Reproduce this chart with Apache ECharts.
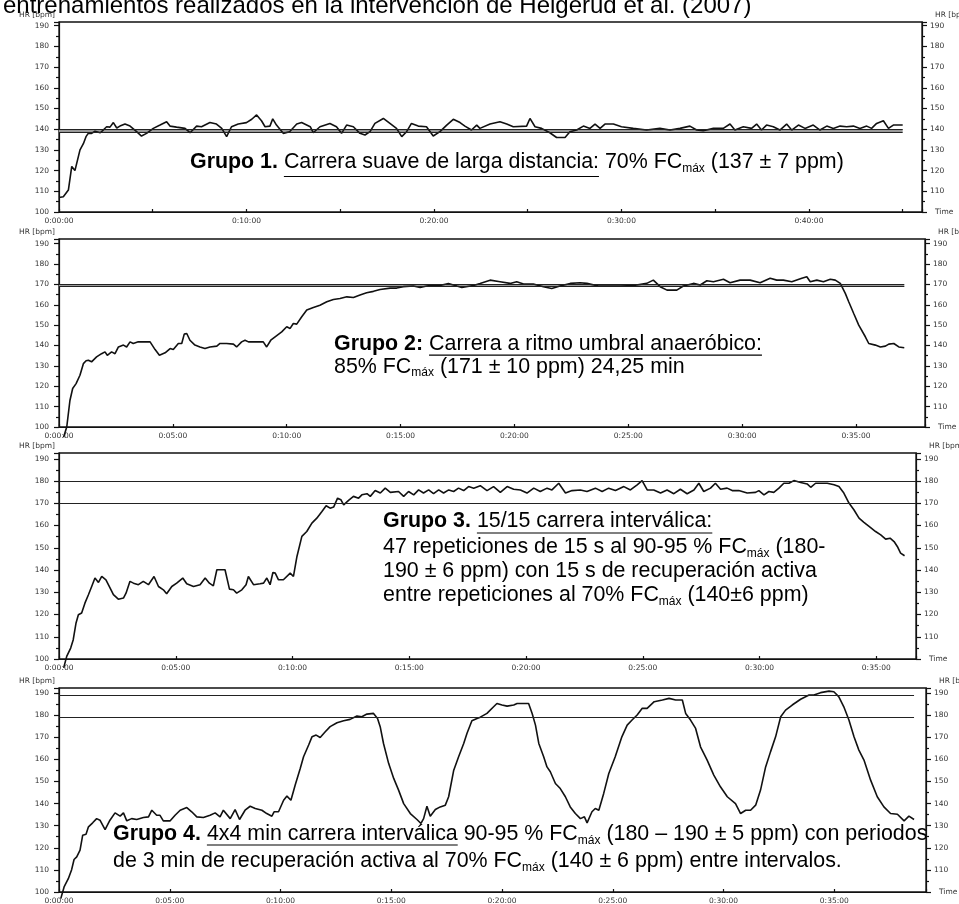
<!DOCTYPE html>
<html>
<head>
<meta charset="utf-8">
<script src="https://cdn.jsdelivr.net/npm/echarts@6/dist/echarts.min.js"></script>
<style>
html, body { margin: 0; padding: 0; background: #fff; }
#main { width: 959px; height: 904px; }
</style>
</head>
<body>
<div id="main"></div>
<script>
const group1 = [[0,107],[0.23,107.4],[0.3,108],[0.5,110.6],[0.68,122],[0.85,120],[0.94,120.3],[1.12,130],[1.3,133],[1.44,136.4],[1.56,138],[1.74,138],[1.92,139],[2.2,138.3],[2.36,139.6],[2.54,141.2],[2.72,141],[2.9,143.2],[3.08,140.6],[3.25,141.5],[3.52,142.5],[3.79,141.5],[4.14,138.8],[4.4,136.7],[4.67,138],[5.03,140.4],[5.39,142],[5.74,143.6],[5.92,141.5],[6.27,141],[6.72,140.4],[6.99,138.3],[7.34,141.5],[7.6,141.2],[8.05,143.2],[8.4,142.5],[8.68,140.4],[8.94,136.4],[9.2,141.2],[9.56,142.5],[10,143.2],[10.28,144.8],[10.54,146.9],[10.8,144.1],[10.99,141.2],[11.25,141.5],[11.4,145],[11.6,142],[11.96,138],[12.3,138.8],[12.68,142.5],[12.94,143.2],[13.4,141.2],[13.56,138.3],[13.92,141.2],[14.45,142.8],[14.8,141.2],[15.07,138],[15.34,142],[15.7,141.2],[16.05,138],[16.32,137.2],[16.59,138.8],[16.85,142.8],[17.3,145.2],[17.65,142.8],[18,140.4],[18.28,136.4],[18.54,138.8],[18.8,142.8],[19.16,141.5],[19.6,141.2],[19.96,136.7],[20.32,138.8],[20.68,142],[21.03,144.8],[21.39,143.2],[21.65,141.5],[22,139.6],[22.28,142],[22.45,140.4],[22.99,142.5],[23.52,143.6],[23.88,142.5],[24.23,141.2],[24.94,141.5],[25.12,145.2],[25.39,141.2],[25.74,140.4],[26.18,138.3],[26.54,136],[26.99,136],[27.25,138.8],[27.61,139.6],[27.97,141.5],[28.32,140.4],[28.59,142.5],[28.86,140.4],[29.12,142.5],[29.57,142.5],[30,141.2],[30.63,140.4],[31.34,139.6],[32.05,140.4],[32.59,139.6],[33.12,140.4],[33.65,141.5],[34.01,139.6],[34.36,139.3],[34.9,140.4],[35.43,140.4],[35.79,142.5],[36.05,139.6],[36.5,141.2],[36.94,140.4],[37.21,142.5],[37.47,139.6],[37.74,142],[38.1,141.2],[38.45,139.6],[38.81,142.5],[39.08,139.6],[39.44,142],[39.79,140.4],[40.23,142],[40.59,139.6],[40.95,141.5],[41.3,140.4],[41.66,141.5],[42.01,141.2],[42.37,141.5],[42.72,140.4],[43.08,141.5],[43.34,140.4],[43.61,142.8],[43.97,144.1],[44.24,140.4],[44.5,142],[45,142]];

const group2 = [[0.2,95],[0.34,100],[0.48,113],[0.6,118.9],[0.75,121.3],[0.92,125.4],[1.07,131.1],[1.19,132.5],[1.29,132.8],[1.43,132],[1.65,134.4],[1.87,136],[2.02,136.9],[2.12,135.2],[2.31,136.9],[2.46,136],[2.61,139.3],[2.83,140.2],[2.97,139.3],[3.12,141.8],[3.26,141],[3.48,141.8],[3.7,141.8],[4,141.8],[4.22,138],[4.41,135.2],[4.66,136.4],[4.88,138.5],[5.02,138],[5.24,141],[5.39,141],[5.5,145.6],[5.61,145.9],[5.75,142.6],[5.97,140.2],[6.19,139.3],[6.41,138.5],[6.63,139.3],[6.93,139.7],[7.07,141],[7.36,141],[7.66,140.7],[7.8,139.3],[8.02,141.8],[8.17,142.6],[8.32,141.8],[8.68,141.8],[8.97,141.8],[9.12,139.3],[9.3,142.6],[9.49,144.3],[9.78,146.7],[10,149.2],[10.15,148.4],[10.29,150.8],[10.44,150.5],[10.66,154.1],[10.88,157.4],[11.17,158.7],[11.46,159.8],[11.76,161.5],[12.05,162.6],[12.34,163.1],[12.64,163.9],[12.93,163.6],[13.22,164.8],[13.51,165.9],[13.81,166.6],[14.1,167.5],[14.54,168.2],[14.83,168.2],[15.12,168.9],[15.56,169.2],[15.86,168.5],[16.15,169.2],[16.44,169.7],[16.73,169.5],[17.1,170.5],[17.47,169.2],[17.69,168.5],[18.2,169.5],[18.49,170.5],[18.93,172.1],[19.37,171.3],[19.81,170.5],[20.1,171.3],[20.4,170.2],[20.83,170.2],[21.27,168.9],[21.64,168],[22,169.2],[22.45,170.5],[22.88,170.8],[23.18,170.5],[23.69,169.2],[24.06,169.2],[24.65,169.2],[25.23,169.5],[25.81,170.5],[26.1,172.1],[26.4,168.9],[26.7,167.2],[27.13,167.2],[27.42,169.2],[27.86,170.5],[28.16,169.7],[28.45,171.8],[28.74,171.3],[29.18,172.5],[29.47,170.8],[29.91,172.1],[30.35,172.1],[30.79,170.8],[31.23,173],[31.52,172.1],[31.81,172.1],[32.18,171.3],[32.62,173],[32.84,173.8],[32.99,171.3],[33.28,172.1],[33.57,171.3],[33.87,172.5],[34.09,172.1],[34.31,170.5],[34.53,165.6],[34.68,161.5],[34.9,155.7],[35.12,150],[35.41,144.3],[35.56,141],[35.85,140.2],[36.07,139.3],[36.29,139.7],[36.44,140.7],[36.66,141],[36.88,139.3],[37.12,138.9]];

const group3 = [[0.2,96],[0.33,101.2],[0.5,104.9],[0.61,108.7],[0.73,116.2],[0.83,119.9],[0.97,120.7],[1.11,125.1],[1.26,128.9],[1.4,132.6],[1.54,136.4],[1.69,134.4],[1.83,137.1],[2.01,135.6],[2.19,131.9],[2.33,128.9],[2.54,126.9],[2.76,127.4],[2.87,129.6],[3.04,134.9],[3.19,134.1],[3.4,133.4],[3.61,134.9],[3.83,133.4],[4.07,137.1],[4.26,132.6],[4.47,131.1],[4.61,129.3],[4.83,132.6],[5.04,134.1],[5.3,136.4],[5.47,133.8],[5.76,132.6],[6.04,133.4],[6.26,136.4],[6.44,134.1],[6.61,132.9],[6.76,140.1],[7.11,140.1],[7.3,131.4],[7.47,131.1],[7.61,129.6],[7.83,131.1],[8.01,133.4],[8.11,137.1],[8.33,133.4],[8.61,133.8],[8.76,134.1],[8.9,136.4],[9.04,133.4],[9.16,138.9],[9.26,138.6],[9.4,135.6],[9.61,135.6],[9.9,138.6],[10.04,137.1],[10.19,146.1],[10.4,155.1],[10.61,157.3],[10.83,161.1],[11.04,163.3],[11.26,166.3],[11.44,168.9],[11.61,167.8],[11.76,168.3],[11.93,172.3],[12.07,171.6],[12.19,169.3],[12.4,171.3],[12.61,173.1],[12.83,172.3],[12.97,173.8],[13.19,174.3],[13.33,173.1],[13.54,175.7],[13.76,174.6],[13.97,176.8],[14.19,174.9],[14.54,175.3],[14.76,173.1],[14.97,175.3],[15.19,173.8],[15.4,176],[15.61,174.6],[15.83,176],[16.04,174.3],[16.26,176],[16.47,174.6],[16.69,176],[16.9,175.3],[17.11,176.8],[17.33,175.7],[17.54,177.5],[17.76,176.8],[18.04,177.9],[18.33,175.7],[18.61,177.5],[18.9,174.9],[19.19,177.5],[19.47,176.3],[19.76,176],[20.04,174.6],[20.33,176.8],[20.61,175.3],[20.9,176.8],[21.11,176],[21.4,179],[21.69,174.6],[21.97,175.7],[22.33,176],[22.61,175.3],[22.97,176.8],[23.26,175.3],[23.54,176.8],[23.83,175.7],[24.19,177.5],[24.47,176],[24.76,178.3],[24.97,180.2],[25.19,176],[25.47,176],[25.76,174.6],[26.04,176],[26.33,174.3],[26.61,176.3],[26.9,174.3],[27.19,176],[27.4,179],[27.61,175.3],[27.9,176.8],[28.11,179],[28.33,176.3],[28.61,176.8],[28.83,175.7],[29.11,175.7],[29.47,174.6],[29.83,174.9],[29.97,175.7],[30.19,173.8],[30.4,175.3],[30.61,174.9],[30.83,176.8],[31.04,179],[31.26,179],[31.47,180.2],[31.76,179.3],[32.04,178.7],[32.19,177.2],[32.4,179],[32.9,179],[33.19,178.3],[33.4,177.5],[33.61,174.6],[33.83,170.1],[34.04,167.1],[34.26,163.3],[34.47,161.4],[34.69,159.6],[34.97,157.3],[35.19,155.8],[35.4,153.9],[35.59,154.3],[35.76,152.8],[35.9,150.6],[36.04,147.6],[36.21,146.4]];

const group4 = [[0.08,97],[0.23,102.3],[0.42,106],[0.57,110.1],[0.68,114.7],[0.8,115.9],[0.95,118.9],[1.07,125.7],[1.22,126.1],[1.33,129.5],[1.52,131.3],[1.7,133.2],[1.85,132.5],[2.08,128.2],[2.3,132.5],[2.53,135.8],[2.76,134.3],[2.91,135.8],[3.06,132.2],[3.28,133.2],[3.51,132.8],[3.81,133.7],[4.04,134],[4.19,137],[4.41,134.7],[4.56,134.7],[4.71,132.2],[5.02,132.2],[5.24,134.7],[5.47,137],[5.77,138.2],[5.99,136.3],[6.22,134],[6.52,133.7],[6.82,134.7],[7.05,135.8],[7.27,134],[7.42,137],[7.73,133.2],[7.95,137.3],[8.15,132.8],[8.4,137],[8.63,138.8],[8.86,137.8],[9.16,137],[9.38,135.5],[9.61,134.3],[9.71,136.3],[9.91,136.3],[10.14,141.5],[10.29,143.4],[10.47,141.5],[10.66,148.3],[10.89,155.9],[11.04,161.2],[11.27,166.5],[11.42,170.2],[11.61,171],[11.79,169.9],[12.02,172.5],[12.24,174.8],[12.55,176.6],[12.85,177.5],[13.14,178.1],[13.45,179.6],[13.67,179.3],[13.9,180.5],[14.2,180.8],[14.38,178.5],[14.5,174.8],[14.65,167.2],[14.88,158.2],[15.11,151.4],[15.33,146.1],[15.56,140],[15.86,135.5],[16.16,132.8],[16.34,131],[16.46,133.2],[16.61,138.8],[16.76,134.3],[16.99,137.3],[17.21,138.5],[17.44,139.3],[17.59,143.1],[17.82,155.1],[18.04,161.2],[18.27,167.2],[18.42,171.8],[18.64,177.5],[18.87,178.5],[19.02,179.1],[19.32,180.8],[19.62,183.8],[19.77,185.3],[20,184.6],[20.23,184.1],[20.53,184.6],[20.68,185.3],[20.98,185.3],[21.2,185.3],[21.36,180.8],[21.51,175.5],[21.66,167.2],[21.88,161.2],[22.03,156.6],[22.18,154.4],[22.41,149.1],[22.63,146.8],[22.86,143.1],[23.08,138.5],[23.31,135.5],[23.54,133.2],[23.72,134],[23.84,131.3],[24.06,136.3],[24.21,137.8],[24.37,137],[24.59,144.6],[24.82,153.6],[25.11,161.2],[25.41,170.2],[25.65,175.5],[25.87,177.8],[26.1,180.1],[26.33,183.1],[26.55,183.1],[26.87,186.1],[27.24,186.9],[27.54,187.6],[27.84,186.9],[28.14,186.9],[28.29,180.8],[28.51,177.8],[28.74,174],[28.96,165.7],[29.26,159.7],[29.56,152.9],[29.86,147.6],[30.17,143.1],[30.54,140],[30.77,135.5],[31,137],[31.22,137],[31.45,139.3],[31.67,146.1],[31.9,156.6],[32.12,163.4],[32.35,170.2],[32.58,179.3],[32.8,182.3],[33.1,184.6],[33.48,187.2],[33.86,189.1],[34.08,189.1],[34.38,190.2],[34.76,190.9],[34.98,190.6],[35.2,188.4],[35.43,183.8],[35.66,177.8],[35.89,170.2],[36.11,164.2],[36.34,159.7],[36.64,150.6],[36.94,143.1],[37.24,138.5],[37.54,135.5],[37.85,135.2],[38.15,132.2],[38.37,134.3],[38.6,132.8]];

// zonas objetivo (bpm) y fin de cada linea (min)
const targets = [[138.7, 140], [168.9, 170], [170, 180], [179, 189]];
const targetEnds = [45, 37.12, 36.7, 38.6];
const shadedTargets = [true, true, false, false];
const xMaxes = [46.03, 38.03, 36.7, 39.14];
const yMaxes = [191.8, 192.3, 192.6, 192.3];
const labelSteps = [10, 5, 5, 5];

const titleText = 'entrenamientos realizados en la intervención de Helgerud et al. (2007)';
const notes = [
    { x: 190, ul: 7, lines: [
        [169.5, [['Grupo 1.', 'b'], [' ', ''], ['Carrera suave de larga distancia:', 'u'], [' 70% FC', ''], ['máx', 's'], [' (137 ± 7 ppm)', '']]]
    ]},
    { x: 334, ul: 3.5, lines: [
        [351.7, [['Grupo 2:', 'b'], [' ', ''], ['Carrera a ritmo umbral anaeróbico:', 'u']]],
        [374.3, [['85% FC', ''], ['máx', 's'], [' (171 ± 10 ppm) 24,25 min', '']]]
    ]},
    { x: 383, ul: 4, lines: [
        [529, [['Grupo 3.', 'b'], [' ', ''], ['15/15 carrera interválica:', 'u']]],
        [555, [['47 repeticiones de 15 s al 90-95 % FC', ''], ['máx', 's'], [' (180-', '']]],
        [579, [['190 ± 6 ppm) con 15 s de recuperación activa', '']]],
        [603, [['entre repeticiones al 70% FC', ''], ['máx', 's'], [' (140±6 ppm)', '']]]
    ]},
    { x: 113, ul: 3, lines: [
        [842, [['Grupo 4.', 'b'], [' ', ''], ['4x4 min carrera interválica', 'u'], [' 90-95 % FC', ''], ['máx', 's'], [' (180 – 190 ± 5 ppm) con periodos', '']]],
        [869, [['de 3 min de recuperación activa al 70% FC', ''], ['máx', 's'], [' (140 ± 6 ppm) entre intervalos.', '']]]
    ]}
];

const grids = [
    { left: 59, top: 22, width: 863, height: 190 },
    { left: 59, top: 239, width: 866, height: 188 },
    { left: 59, top: 453, width: 857, height: 206 },
    { left: 59, top: 688, width: 867, height: 204 }
];

const TEXT_FONT = '"Liberation Sans", Arial, sans-serif';
const AXIS_FONT = 'DejaVu Sans';
const NOTE_SIZE = 21.4;
const SUB_SIZE = 12;
const measureCtx = document.createElement('canvas').getContext('2d');

function fontOf(size, bold) {
    return (bold ? 'bold ' : '') + size + 'px ' + TEXT_FONT;
}

// una linea de texto con negrita, subrayado y subindice
function noteLine(x, baseline, parts, ulGap) {
    const out = [];
    let cx = x;
    parts.forEach(function (p) {
        const sub = p[1] === 's';
        const size = sub ? SUB_SIZE : NOTE_SIZE;
        const font = fontOf(size, p[1] === 'b');
        measureCtx.font = font;
        const w = measureCtx.measureText(p[0]).width;
        const base = baseline + (sub ? 3 : 0);
        out.push({
            type: 'text', x: cx, y: base - 0.3465 * size, silent: true,
            style: { text: p[0], font: font, fill: '#000', align: 'left', verticalAlign: 'middle' }
        });
        if (p[1] === 'u') {
            out.push({
                type: 'line', silent: true,
                shape: { x1: cx, y1: baseline + ulGap, x2: cx + w, y2: baseline + ulGap },
                style: { stroke: '#000', lineWidth: 1.2 }
            });
        }
        cx += w;
    });
    return out;
}

function timeLabel(step) {
    return function (v) {
        const m = Math.round(v);
        if (Math.abs(v - m) > 1e-6 || m % step) return '';
        return '0:' + (m < 10 ? '0' + m : m) + ':00';
    };
}

const axisLabelStyle = { fontSize: 7.5, color: '#333', fontFamily: AXIS_FONT };
const blackLine = { color: '#111', width: 1.2 };

const xAxes = [], yAxes = [], series = [], gridOpts = [];
[group1, group2, group3, group4].forEach(function (data, i) {
    gridOpts.push(Object.assign({
        show: true, borderColor: '#111', borderWidth: 1.3,
        containLabel: false, outerBoundsMode: 'none'
    }, grids[i]));

    xAxes.push({
        gridIndex: i, type: 'value', min: 0, max: xMaxes[i], interval: 5,
        name: 'Time', nameLocation: 'end', nameGap: 13, nameMoveOverlap: false,
        nameTextStyle: Object.assign({ align: 'left', verticalAlign: 'middle' }, axisLabelStyle),
        axisLine: { show: true, onZero: false, lineStyle: blackLine },
        axisTick: { show: true, inside: true, length: 3, lineStyle: blackLine },
        axisLabel: Object.assign({ margin: 5, formatter: timeLabel(labelSteps[i]), hideOverlap: false }, axisLabelStyle),
        splitLine: { show: false }
    });

    ['left', 'right'].forEach(function (side) {
        yAxes.push({
            gridIndex: i, type: 'value', position: side,
            min: 100, max: yMaxes[i], interval: 10,
            name: 'HR [bpm]', nameLocation: 'end', nameGap: 3, nameMoveOverlap: false,
            nameTextStyle: Object.assign({
                align: side === 'left' ? 'right' : 'left',
                verticalAlign: 'bottom',
                padding: side === 'left' ? [0, 4, 0, 0] : [0, 0, 0, 13]
            }, axisLabelStyle),
            axisLine: { show: true, onZero: false, lineStyle: blackLine },
            axisTick: { show: true, inside: false, length: 5, lineStyle: blackLine },
            minorTick: { show: true, splitNumber: 2, length: 3, lineStyle: blackLine },
            axisLabel: Object.assign({
                margin: side === 'left' ? 10 : 8,
                hideOverlap: false,
                formatter: function (v) {
                    if (Math.abs(v - Math.round(v)) > 1e-6 || v % 10 || v > 190) return '';
                    if (side === 'right' && v === 100) return '';
                    return String(v);
                }
            }, axisLabelStyle),
            splitLine: { show: false },
            minorSplitLine: { show: false }
        });
    });

    const lo = targets[i][0], hi = targets[i][1], end = targetEnds[i];
    const s = {
        type: 'line', xAxisIndex: i, yAxisIndex: 2 * i,
        data: data, symbol: 'none', clip: false, silent: true,
        lineStyle: { color: '#111', width: 1.6 },
        markLine: {
            symbol: 'none', silent: true, label: { show: false },
            lineStyle: { color: '#222', width: 1.1, type: 'solid' },
            data: [
                [{ coord: [0, lo] }, { coord: [end, lo] }],
                [{ coord: [0, hi] }, { coord: [end, hi] }]
            ]
        }
    };
    if (shadedTargets[i]) {
        s.markArea = {
            silent: true,
            itemStyle: { color: '#9a9a9a' },
            data: [[{ coord: [0, lo] }, { coord: [end, hi] }]]
        };
    }
    series.push(s);
});

let graphicEls = [{
    type: 'text', x: 3, y: 15 - 0.3465 * 24, silent: true,
    style: { text: titleText, font: '24px ' + TEXT_FONT, fill: '#000', align: 'left', verticalAlign: 'middle' }
}];
notes.forEach(function (n) {
    n.lines.forEach(function (ln) {
        graphicEls = graphicEls.concat(noteLine(n.x, ln[0], ln[1], n.ul));
    });
});

const chart = echarts.init(document.getElementById('main'), null, { renderer: 'canvas' });
chart.setOption({
    animation: false,
    backgroundColor: '#fff',
    grid: gridOpts,
    xAxis: xAxes,
    yAxis: yAxes,
    series: series,
    graphic: { elements: graphicEls }
});
</script>
</body>
</html>
